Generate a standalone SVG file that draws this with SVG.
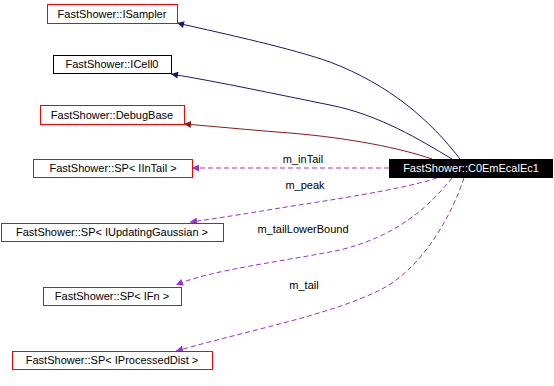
<svg xmlns="http://www.w3.org/2000/svg" width="554" height="386" viewBox="0 0 554 386">
<style>
text{font-family:"Liberation Sans",Arial,sans-serif;font-size:11px;text-anchor:middle;fill:#000}
.box{fill:#fff;stroke:#ff0000;stroke-width:1}
.blk{stroke:#000}
.e{fill:none;stroke-width:1}
.nv{stroke:#191970;marker-end:url(#aN)}
.dr{stroke:#8b1a1a;marker-end:url(#aR)}
.pu{stroke:#9a32cd;stroke-dasharray:5,3;marker-end:url(#aP)}
</style>
<defs>
<marker id="aN" viewBox="0 0 10 10" refX="10" refY="5" markerWidth="10" markerHeight="7" markerUnits="userSpaceOnUse" orient="auto"><path d="M0,0L10,5L0,10z" fill="#191970"/></marker>
<marker id="aR" viewBox="0 0 10 10" refX="10" refY="5" markerWidth="10" markerHeight="7" markerUnits="userSpaceOnUse" orient="auto"><path d="M0,0L10,5L0,10z" fill="#8b1a1a"/></marker>
<marker id="aP" viewBox="0 0 10 10" refX="10" refY="5" markerWidth="10" markerHeight="7" markerUnits="userSpaceOnUse" orient="auto"><path d="M0,0L10,5L0,10z" fill="#9a32cd"/></marker>
</defs>
<rect width="554" height="386" fill="#fff"/>
<g id="edges">
<path class="e nv" d="M460,159 C430,120 390,85 330,62 C290,48 230,35 177,23"/>
<path class="e nv" d="M452,159 C420,140 380,115 330,105 C280,95 220,82 171,74"/>
<path class="e dr" d="M432,159 C400,148 350,138 290,133 C250,130 210,126 184,124"/>
<path class="e pu" d="M389,168 L192,168"/>
<path class="e pu" d="M437,178 C400,190 330,200 280,208 C250,213 220,218 190,222"/>
<path class="e pu" d="M452,178 C430,205 400,235 340,250 C280,262 210,270 176,285"/>
<path class="e pu" d="M464,178 C450,220 420,270 380,290 C330,315 250,330 176,351"/>
<text x="303" y="163">m_inTail</text>
<text x="305" y="189">m_peak</text>
<text x="303" y="233">m_tailLowerBound</text>
<text x="304" y="289">m_tail</text>
</g>
<g id="ISampler"><rect class="box" x="47.5" y="4.5" width="130" height="19"/><text x="112" y="18">FastShower::ISampler</text></g>
<g id="ICell0"><rect class="box blk" x="53.5" y="55.5" width="118" height="18"/><text x="112" y="68">FastShower::ICell0</text></g>
<g id="DebugBase"><rect class="box" x="40.5" y="105.5" width="144" height="19"/><text x="112" y="119">FastShower::DebugBase</text></g>
<g id="SPInTail"><rect class="box" x="33.5" y="159.5" width="159" height="18"/><text x="113" y="172">FastShower::SP&lt; IInTail &gt;</text></g>
<g id="SPUpdatingGaussian"><rect class="box" x="1.5" y="223.5" width="222" height="18"/><text x="112" y="236">FastShower::SP&lt; IUpdatingGaussian &gt;</text></g>
<g id="SPFn"><rect class="box" x="43.5" y="287.5" width="138" height="18"/><text x="112" y="300">FastShower::SP&lt; IFn &gt;</text></g>
<g id="SPProcessedDist"><rect class="box" x="12.5" y="351.5" width="200" height="18"/><text x="112" y="364">FastShower::SP&lt; IProcessedDist &gt;</text></g>
<g id="C0EmEcalEc1"><rect x="389" y="159" width="164" height="19" fill="#000"/><text x="471" y="172" style="fill:#fff">FastShower::C0EmEcalEc1</text></g>
</svg>
